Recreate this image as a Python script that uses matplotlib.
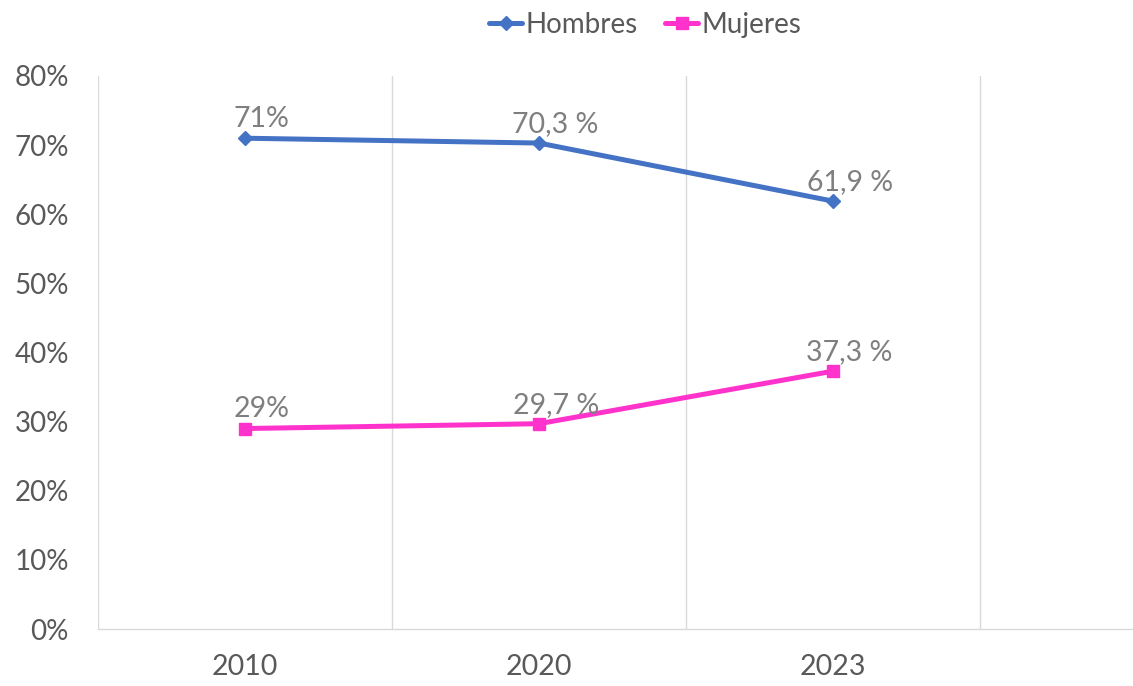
import matplotlib
matplotlib.use("Agg")
import matplotlib.pyplot as plt
from matplotlib.ticker import FuncFormatter, MultipleLocator

# categories (the fourth slot is empty in the source chart)
YEARS = ["2010", "2020", "2023", ""]
HOMBRES = [71.0, 70.3, 61.9]
MUJERES = [29.0, 29.7, 37.3]
HOMBRES_LABELS = ["71%", "70,3 %", "61,9 %"]
MUJERES_LABELS = ["29%", "29,7 %", "37,3 %"]

BLUE = "#4472C4"
PINK = "#FF33CC"
TICK_GREY = "#595959"
LABEL_GREY = "#7F7F7F"
GRID = "#D9D9D9"

plt.rcParams["font.family"] = ["Lato", "DejaVu Sans"]

W, H = 1133, 686
fig = plt.figure(figsize=(W / 100, H / 100), dpi=100)
# plot area runs off the right edge, like the cropped original
left, bottom, top = 98 / W, 1 - 629 / H, 1 - 76 / H
ax = fig.add_axes([left, bottom, 4 * 294 / W, top - bottom])

x = list(range(len(YEARS)))
ax.plot(x[:3], HOMBRES, color=BLUE, lw=3.6, marker="D", ms=7,
        label="Hombres", solid_capstyle="round")
ax.plot(x[:3], MUJERES, color=PINK, lw=3.6, marker="s", ms=9,
        label="Mujeres", solid_capstyle="round")

for xs, ys, labs in [(x, HOMBRES, HOMBRES_LABELS), (x, MUJERES, MUJERES_LABELS)]:
    for xi, yi, lab in zip(xs, ys, labs):
        ax.annotate(lab, (xi, yi), xytext=(12, 8), textcoords="offset points",
                    ha="center", va="baseline", fontsize=20.5, color=LABEL_GREY)

ax.set_xlim(-0.5, 3.5)
ax.set_ylim(0, 80)
ax.yaxis.set_major_locator(MultipleLocator(10))
ax.yaxis.set_major_formatter(FuncFormatter(lambda v, p: f"{v:.0f}%"))
ax.set_xticks(x)
ax.set_xticklabels(YEARS)
ax.set_xticks([-0.5, 0.5, 1.5, 2.5, 3.5], minor=True)
ax.grid(True, which="minor", axis="x", color=GRID, lw=1)
ax.tick_params(axis="both", which="both", length=0)
ax.tick_params(axis="y", pad=21, labelsize=20, labelcolor=TICK_GREY)
ax.tick_params(axis="x", pad=18, labelsize=20.5, labelcolor=TICK_GREY)

for s in ["top", "right", "left"]:
    ax.spines[s].set_visible(False)
ax.spines["bottom"].set_color(GRID)
ax.spines["bottom"].set_linewidth(1)

leg = fig.legend(loc="center", bbox_to_anchor=(645 / W, 1 - 25 / H), ncol=2,
                 frameon=False, fontsize=20, handlelength=1.2, handletextpad=0.1,
                 columnspacing=1.0, labelcolor=TICK_GREY)

fig.savefig("out.png", dpi=100)
